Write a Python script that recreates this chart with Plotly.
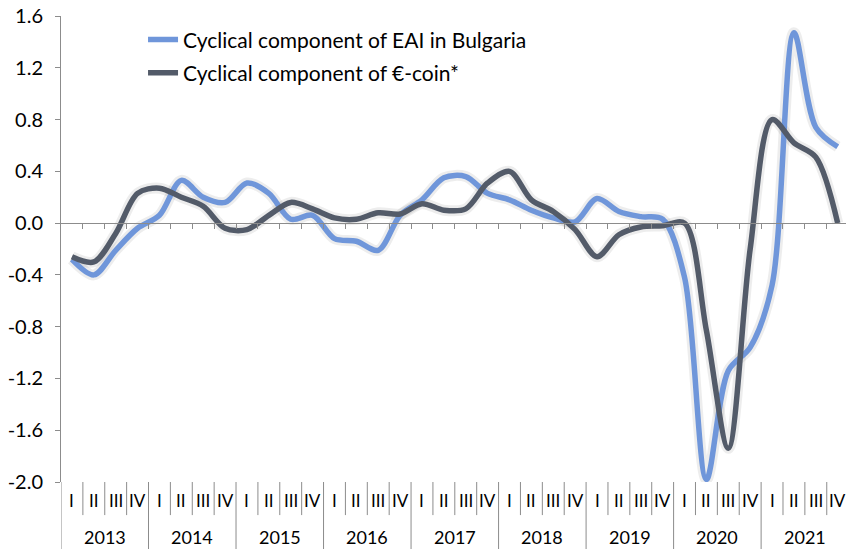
import plotly.graph_objects as go

years = ['2013', '2014', '2015', '2016', '2017', '2018', '2019', '2020', '2021']
quarters = ['I', 'II', 'III', 'IV']

eai_bg = [-0.28, -0.40, -0.21, -0.04,
          0.06, 0.33, 0.20, 0.16,
          0.31, 0.23, 0.03, 0.06,
          -0.12, -0.14, -0.21, 0.06,
          0.18, 0.35, 0.36, 0.23,
          0.18, 0.10, 0.04, 0.01,
          0.19, 0.09, 0.05, 0.03,
          -0.42, -1.98, -1.14, -0.96,
          -0.48, 1.47, 0.74, 0.59]

ecoin = [-0.26, -0.30, -0.08, 0.23,
         0.27, 0.20, 0.13, -0.04,
         -0.05, 0.06, 0.16, 0.11,
         0.04, 0.03, 0.08, 0.07,
         0.15, 0.10, 0.11, 0.31,
         0.40, 0.18, 0.09, -0.05,
         -0.26, -0.09, -0.03, -0.02,
         0.00, -0.83, -1.74, -0.20,
         0.80, 0.62, 0.51, 0.00]

y_ticks = [-2.0, -1.6, -1.2, -0.8, -0.4, 0.0, 0.4, 0.8, 1.2, 1.6]

names = ['Cyclical component of EAI in Bulgaria', 'Cyclical component of €-coin*']
colors = ['#6F96DA', '#535B69']

FONT = 'Lato'
GREY = '#8C8C8C'
n = len(years) * len(quarters)
xs = list(range(n))
x_max = 35.38

fig = go.Figure()

# soft shadow under the lines (Excel style)
for vals in (eai_bg, ecoin):
    fig.add_trace(go.Scatter(x=xs, y=vals, mode='lines', showlegend=False, hoverinfo='skip',
                             line=dict(color='rgba(0,0,0,0.07)', width=11, shape='spline', smoothing=0.9)))

for i, vals in enumerate((eai_bg, ecoin)):
    fig.add_trace(go.Scatter(x=xs, y=vals, mode='lines', name=names[i], legendgroup=str(i),
                             line=dict(color=colors[i], width=5.5, shape='spline', smoothing=0.9)))

# quarter / year labels under the plot
for k in range(n):
    fig.add_annotation(x=k, y=-0.039, xref='x', yref='paper', text=quarters[k % 4],
                       showarrow=False, font=dict(family=FONT, size=17, color='black'),
                       xanchor='center', yanchor='middle')
for j, yr in enumerate(years):
    fig.add_annotation(x=4 * j + 1.5, y=-0.118, xref='x', yref='paper', text=yr,
                       showarrow=False, font=dict(family=FONT, size=18, color='black'),
                       xanchor='center', yanchor='middle')

# separators between categories
for k in range(n):
    b = k - 0.5
    low = -0.144 if k % 4 == 0 else -0.071
    fig.add_shape(type='line', xref='x', yref='paper', x0=b, x1=b, y0=0, y1=low,
                  line=dict(color=GREY, width=1))

fig.update_layout(
    width=846, height=549,
    margin=dict(l=61, r=0, t=16, b=67),
    paper_bgcolor='white', plot_bgcolor='white',
    font=dict(family=FONT, size=20, color='black'),
    showlegend=True,
    legend=dict(x=0.1045, y=0.993, xanchor='left', yanchor='top',
                bgcolor='rgba(0,0,0,0)', font=dict(family=FONT, size=21),
                tracegroupgap=3, itemwidth=30),
    xaxis=dict(range=[-0.5, x_max], anchor='free', position=2 / 3.6,
               showline=True, linecolor=GREY, linewidth=1,
               ticks='outside', ticklen=5, tickcolor=GREY,
               tickvals=[k + 0.5 for k in range(n)], showticklabels=False,
               showgrid=False, zeroline=False, automargin=False),
    yaxis=dict(range=[-2.0, 1.6], showline=True, linecolor=GREY, linewidth=1,
               ticks='outside', ticklen=5, tickcolor=GREY,
               tickvals=y_ticks, ticktext=[f'{v:.1f}' for v in y_ticks],
               ticklabelstandoff=8, ticklabeloverflow='allow', automargin=False,
               showgrid=False, zeroline=False,
               tickfont=dict(family=FONT, size=20, color='black')),
)

# drop the default page margin so the 846x549 figure fills the window
fig.write_html('out.html', config={'displayModeBar': False},
               post_script="document.body.style.margin = '0';")
